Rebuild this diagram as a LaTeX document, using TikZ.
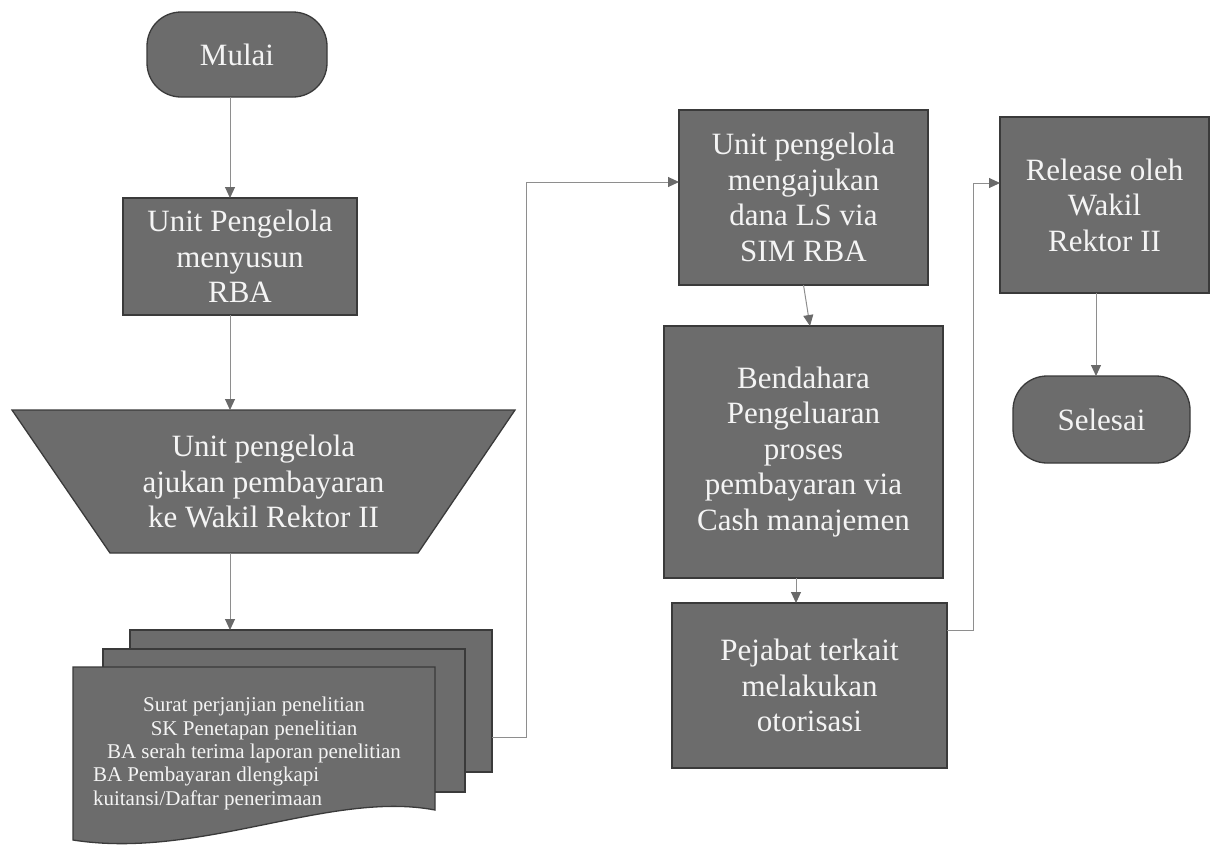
\documentclass[tikz,border=0pt]{standalone}
\usepackage{fontspec}
\setmainfont{Liberation Serif}
\usetikzlibrary{arrows.meta,backgrounds,calc}
\definecolor{boxfill}{HTML}{6C6C6C}
\definecolor{boxline}{HTML}{3A3A3A}
\definecolor{wire}{HTML}{8E8E8E}
\definecolor{tipgray}{HTML}{6A6A6A}
\definecolor{labelwhite}{HTML}{F4F4F4}
\tikzset{
  shadebox/.style={fill=boxfill, draw=boxline, line width=1.3pt},
  bigtext/.style={text=labelwhite, font=\fontsize{31}{35.5}\selectfont, align=center},
  stepbox/.style={shadebox, bigtext, rectangle, inner sep=0pt, outer sep=0pt},
  terminal/.style={stepbox, rounded corners=34pt},
  frame/.style={rectangle, inner sep=0pt, outer sep=0pt},
  flow/.style={draw=wire, line width=1pt, -{Triangle[length=11pt,width=10pt,fill=tipgray,color=tipgray]}},
}
\begin{document}
\begin{tikzpicture}[x=1pt,y=-1pt]
\useasboundingbox (0,0) rectangle (1210,846);

% left column
\node[terminal, minimum width=180pt, minimum height=85pt] (mulai) at (237,54.5) {Mulai};
\node[stepbox, minimum width=234pt, minimum height=117pt] (rba) at (240,256.5)
  {Unit Pengelola\\menyusun\\RBA};
\node[frame, bigtext, minimum width=503pt, minimum height=143pt] (trap) at (263.5,481.5)
  {Unit pengelola\\ajukan pembayaran\\ke Wakil Rektor II};

% stacked documents
\node[frame, minimum width=362pt, minimum height=142pt] (docback) at (311,701) {};
\node[frame, minimum width=362pt, minimum height=143pt] (docmid) at (284,720.5) {};
\node[frame, text=labelwhite, font=\fontsize{21}{23.3}\selectfont, align=center,
      minimum width=362pt, minimum height=173pt] (docfront) at (254,753.5)
  {Surat perjanjian penelitian\\
   SK Penetapan penelitian\\
   BA serah terima laporan penelitian\\
   \makebox[322pt][l]{BA Pembayaran dlengkapi}\\
   \makebox[322pt][l]{kuitansi/Daftar penerimaan}};

% middle column
\node[stepbox, minimum width=249pt, minimum height=175pt] (ajukan) at (803.5,197.5)
  {Unit pengelola\\mengajukan\\dana LS via\\SIM RBA};
\node[stepbox, minimum width=279pt, minimum height=252pt] (bendahara) at (803.5,452)
  {Bendahara\\Pengeluaran\\proses\\pembayaran via\\Cash manajemen};
\node[stepbox, minimum width=275pt, minimum height=165pt] (pejabat) at (809.5,685.5)
  {Pejabat terkait\\melakukan\\otorisasi};

% right column
\node[stepbox, minimum width=209pt, minimum height=176pt] (release) at (1104.5,205)
  {Release oleh\\Wakil\\Rektor II};
\node[terminal, minimum width=177pt, minimum height=87pt] (selesai) at (1101.5,419.5) {Selesai};

% outlines that are not plain rectangles
\begin{scope}[on background layer]
  \path[shadebox] (trap.north west) -- (trap.north east)
    -- ([xshift=-97pt]trap.south east) -- ([xshift=98pt]trap.south west) -- cycle;
  \path[shadebox] (docback.north west) rectangle (docback.south east);
  \path[shadebox] (docmid.north west) rectangle (docmid.south east);
  \path[shadebox] (docfront.north west) -- (docfront.north east)
    -- ($(docfront.south east)+(0,-30)$)
    .. controls ($(docfront.south east)+(-105,-50)$) and ($(docfront.south west)+(127,20)$) ..
    (docfront.south west) -- cycle;
\end{scope}

% connector guide lines
\coordinate (colL) at (230,0);
\coordinate (rowD) at (0,737);
\coordinate (colD) at (526,0);
\coordinate (rowA) at (0,182);
\coordinate (colB) at (796,0);
\coordinate (rowP) at (0,630);
\coordinate (colP) at (973,0);
\coordinate (rowR) at (0,183);
\coordinate (colR) at (1096,0);

\draw[flow] (mulai.south -| colL) -- (rba.north -| colL);
\draw[flow] (rba.south -| colL) -- (trap.north -| colL);
\draw[flow] (trap.south -| colL) -- (docback.north -| colL);
\draw[flow] (docback.east |- rowD) -| (colD |- rowA) -- (ajukan.west |- rowA);
\draw[flow] (ajukan.south) -- ([xshift=6.5pt]bendahara.north);
\draw[flow] (bendahara.south -| colB) -- (pejabat.north -| colB);
\draw[flow] (pejabat.east |- rowP) -| (colP |- rowR) -- (release.west |- rowR);
\draw[flow] (release.south -| colR) -- (selesai.north -| colR);
\end{tikzpicture}
\end{document}
